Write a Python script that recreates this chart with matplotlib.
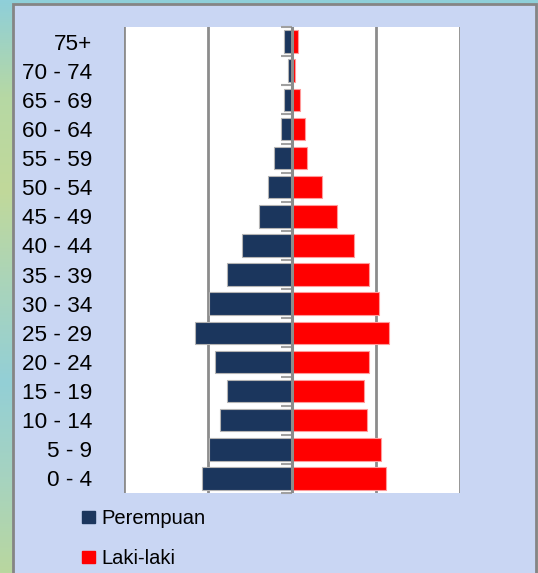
import numpy as np
import matplotlib.pyplot as plt
from matplotlib.patches import Rectangle
from matplotlib.colors import LinearSegmentedColormap

plt.rcParams['font.family'] = ['Liberation Sans', 'DejaVu Sans']

# age groups, bottom to top
age_groups = ['0 - 4', '5 - 9', '10 - 14', '15 - 19', '20 - 24', '25 - 29',
              '30 - 34', '35 - 39', '40 - 44', '45 - 49', '50 - 54', '55 - 59',
              '60 - 64', '65 - 69', '70 - 74', '75+']
perempuan = [1.07, 0.99, 0.86, 0.77, 0.92, 1.16, 0.99, 0.77, 0.60, 0.39,
             0.28, 0.22, 0.13, 0.10, 0.045, 0.10]
laki_laki = [1.12, 1.06, 0.89, 0.86, 0.92, 1.15, 1.03, 0.92, 0.74, 0.54,
             0.36, 0.18, 0.16, 0.10, 0.04, 0.07]
series_names = ['Perempuan', 'Laki-laki']

navy = '#1b365d'
red = '#ff0000'
grid_gray = '#8c8c8c'

W, H = 538, 573
fig = plt.figure(figsize=(W / 100, H / 100), dpi=100)

# background: teal/green strip + lavender panel
bg = fig.add_axes([0, 0, 1, 1], zorder=-10)
bg.set_xlim(0, W)
bg.set_ylim(H, 0)
bg.axis('off')
strip = LinearSegmentedColormap.from_list(
    'strip', ['#8fcfd9', '#b6d8a4', '#c1d99a', '#a9d4bb', '#93cfd6', '#a6d3c0', '#b9d79f'])
grad = np.linspace(0, 1, 256).reshape(-1, 1)
bg.imshow(grad, cmap=strip, extent=[0, W, H, 0], aspect='auto')
bg.add_patch(Rectangle((13, 4), 523, 600, facecolor='#c9d6f3',
                       edgecolor='#858585', lw=2))

# plot area
ax = fig.add_axes([124 / W, 1 - 493 / H, 336 / W, 466 / H])
ax.set_facecolor('white')
y = np.arange(len(age_groups))
ax.barh(y, -np.array(perempuan), height=0.77, color=navy,
        edgecolor='#b4b4b4', lw=0.8, zorder=2)
ax.barh(y, laki_laki, height=0.77, color=red,
        edgecolor='#ff9a9a', lw=0.8, zorder=2)

ax.set_xlim(-2, 2)
ax.set_ylim(-0.5, len(age_groups) - 0.5)
ax.set_xticks([-2, -1, 0, 1, 2])
ax.tick_params(axis='x', length=0, labelbottom=False)
ax.grid(axis='x', color=grid_gray, lw=2)
ax.set_axisbelow(True)
ax.set_yticks(y, age_groups)
ax.tick_params(axis='y', length=0, pad=23, labelsize=16.2)
for s in ax.spines.values():
    s.set_visible(False)
ax.axvline(0, color=grid_gray, lw=2.2, zorder=3)

# category boundary ticks on the centre axis
sec = ax.secondary_yaxis(0.5)
sec.set_yticks(np.arange(len(age_groups) + 1) - 0.5)
sec.tick_params(left=True, right=False, labelleft=False, labelright=False,
                direction='out', length=8, width=1.5, color='#a0a0a0')
for s in sec.spines.values():
    s.set_visible(False)

# legend
handles = [Rectangle((0, 0), 1, 1, color=navy), Rectangle((0, 0), 1, 1, color=red)]
fig.legend(handles, series_names, loc='upper left',
           bbox_to_anchor=(82 / W, 1 - 509 / H), frameon=False,
           fontsize=14.5, handlelength=0.65, handleheight=0.55,
           handletextpad=0.3, labelspacing=1.05, borderpad=0, borderaxespad=0)

fig.savefig('out.png', dpi=100)
